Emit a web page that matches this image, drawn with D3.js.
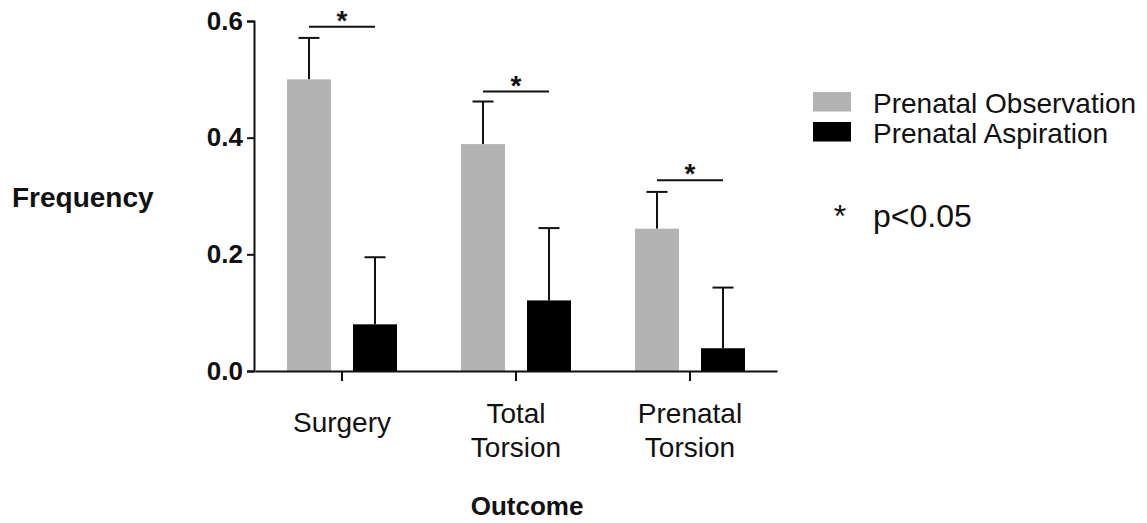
<!DOCTYPE html>
<html>
<head>
<meta charset="utf-8">
<script src="https://cdn.jsdelivr.net/npm/d3@7"></script>
<style>
  html, body { margin: 0; padding: 0; background: #fff; }
  svg { display: block; font-family: "Liberation Sans", Arial, Helvetica, sans-serif; }
</style>
</head>
<body>
<svg id="chart" width="1147" height="523"></svg>
<script>
// Outcome categories (label lines) and the two study groups
const categories = ["Surgery", "Total Torsion", "Prenatal Torsion"];
const categoryLines = [["Surgery"], ["Total", "Torsion"], ["Prenatal", "Torsion"]];
const series = ["Prenatal Observation", "Prenatal Aspiration"];

// Mean frequency and upper error limit per group
const observationMean = [0.50, 0.389, 0.244];
const observationUpper = [0.571, 0.462, 0.307];
const aspirationMean = [0.080, 0.121, 0.039];
const aspirationUpper = [0.195, 0.245, 0.143];

// Height of the significance bracket over each pair
const sigLevel = [0.590, 0.479, 0.327];

const yTicks = [0.0, 0.2, 0.4, 0.6];
const colors = ["#b3b3b3", "#000000"];

const svg = d3.select("#chart");

const x = d3.scaleBand().domain(categories).range([255, 777]).padding(0);
const inner = d3.scaleBand().domain(series).range([-55, 55]).paddingInner(1 / 3).paddingOuter(0);
const y = d3.scaleLinear().domain([0, 0.6]).range([371, 21]);

const data = categories.flatMap((c, i) => [
  { cat: c, s: series[0], mean: observationMean[i], upper: observationUpper[i] },
  { cat: c, s: series[1], mean: aspirationMean[i], upper: aspirationUpper[i] }
]);

const cx = d => x(d.cat) + x.bandwidth() / 2;

// Error bars (upper only), drawn beneath the bars
const eb = svg.append("g").attr("stroke", "#111").attr("stroke-width", 2);
data.forEach(d => {
  const mx = cx(d) + inner(d.s) + inner.bandwidth() / 2;
  eb.append("line").attr("x1", mx).attr("x2", mx).attr("y1", y(d.mean)).attr("y2", y(d.upper));
  eb.append("line").attr("x1", mx - 10.5).attr("x2", mx + 10.5).attr("y1", y(d.upper)).attr("y2", y(d.upper));
});

// Bars
svg.append("g").selectAll("rect").data(data).join("rect")
  .attr("x", d => cx(d) + inner(d.s))
  .attr("width", inner.bandwidth())
  .attr("y", d => y(d.mean))
  .attr("height", d => y(0) - y(d.mean))
  .attr("fill", d => colors[series.indexOf(d.s)]);

// Significance brackets with asterisks
categories.forEach((c, i) => {
  const c0 = x(c) + x.bandwidth() / 2;
  const x1 = c0 + inner(series[0]) + inner.bandwidth() / 2;
  const x2 = c0 + inner(series[1]) + inner.bandwidth() / 2;
  const ly = y(sigLevel[i]);
  svg.append("line").attr("x1", x1).attr("x2", x2).attr("y1", ly).attr("y2", ly)
    .attr("stroke", "#111").attr("stroke-width", 2);
  svg.append("text").attr("x", (x1 + x2) / 2).attr("y", ly + 3)
    .attr("text-anchor", "middle").attr("font-size", 28).attr("font-weight", "bold")
    .attr("fill", "#111").text("*");
});

// Y axis
const yAxis = svg.append("g").attr("transform", "translate(254,0)")
  .call(d3.axisLeft(y).tickValues(yTicks).tickFormat(d3.format(".1f")).tickSize(7).tickPadding(4));
yAxis.select(".domain").attr("stroke", "#111").attr("stroke-width", 2);
yAxis.selectAll(".tick line").attr("stroke", "#111").attr("stroke-width", 2);
yAxis.selectAll(".tick text").attr("font-size", 26).attr("font-weight", "bold")
  .attr("fill", "#111").attr("font-family", "'Liberation Sans', Arial, sans-serif");

// X axis
const xAxis = svg.append("g").attr("transform", "translate(0,371)")
  .call(d3.axisBottom(x).tickSize(10).tickSizeOuter(0).tickFormat(""));
xAxis.select(".domain").attr("stroke", "#111").attr("stroke-width", 2);
xAxis.selectAll(".tick line").attr("stroke", "#111").attr("stroke-width", 2);

// Category labels
categories.forEach((c, i) => {
  const lines = categoryLines[i];
  const t = svg.append("text").attr("text-anchor", "middle").attr("font-size", 28).attr("fill", "#111");
  const base = lines.length === 1 ? 432 : 423;
  lines.forEach((ln, k) => {
    t.append("tspan").attr("x", x(c) + x.bandwidth() / 2).attr("y", base + k * 33.5).text(ln);
  });
});

// Axis titles
svg.append("text").attr("x", 12).attr("y", 206.5).attr("font-size", 28).attr("font-weight", "bold")
  .attr("fill", "#111").text("Frequency");
svg.append("text").attr("x", 527).attr("y", 515).attr("text-anchor", "middle")
  .attr("font-size", 26).attr("font-weight", "bold").attr("fill", "#111").text("Outcome");

// Legend
const legendY = [113, 143];
series.forEach((s, i) => {
  svg.append("rect").attr("x", 813).attr("y", legendY[i] - 21).attr("width", 38).attr("height", 19.5)
    .attr("fill", colors[i]);
  svg.append("text").attr("x", 873).attr("y", legendY[i]).attr("font-size", 28)
    .attr("fill", "#111").text(s);
});
svg.append("text").attr("x", 840).attr("y", 226.5).attr("text-anchor", "middle")
  .attr("font-size", 32).attr("fill", "#111").text("*");
svg.append("text").attr("x", 873).attr("y", 226.5).attr("font-size", 32)
  .attr("fill", "#111").text("p<0.05");
</script>
</body>
</html>
